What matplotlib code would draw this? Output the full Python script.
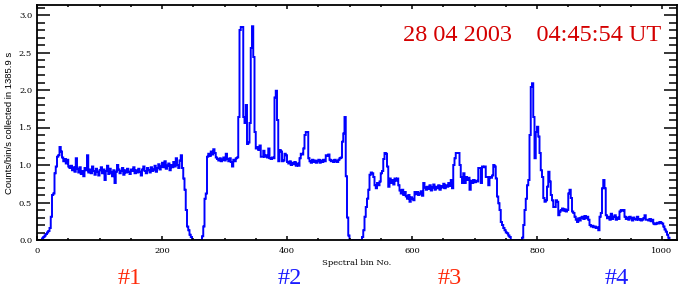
import numpy as np
import matplotlib
matplotlib.use('Agg')
import matplotlib.pyplot as plt
from matplotlib.ticker import MultipleLocator

# counts per 2-bin group, spectral bins 0..1023
counts = [
	0.00, 0.00, 0.00, 0.00, 0.02, 0.04, 0.06, 0.08, 0.10, 0.12, 0.16, 0.31, 0.60, 0.62, 0.89, 0.98,
	1.11, 1.13, 1.24, 1.18, 1.10, 1.05, 1.08, 1.02, 1.07, 0.98, 0.96, 0.99, 0.93, 0.97, 0.91, 1.09,
	0.95, 0.90, 0.97, 0.88, 0.92, 0.85, 0.96, 0.93, 1.13, 0.90, 0.94, 0.89, 0.98, 0.92, 0.87, 0.95,
	0.91, 0.86, 0.93, 0.97, 0.89, 0.94, 0.80, 0.92, 0.99, 0.88, 0.95, 0.90, 0.85, 0.93, 0.76, 0.91,
	1.00, 0.94, 0.89, 0.92, 0.96, 0.87, 0.93, 0.90, 0.95, 0.91, 0.88, 0.94, 0.92, 0.97, 0.89, 0.93,
	0.90, 0.95, 0.91, 0.86, 0.94, 0.98, 0.92, 0.89, 0.96, 0.93, 0.90, 0.97, 0.92, 0.94, 0.99, 0.91,
	0.96, 1.01, 0.94, 0.98, 1.03, 0.97, 1.05, 0.95, 0.99, 1.02, 0.93, 1.00, 0.97, 1.04, 0.98, 1.09,
	1.00, 0.96, 1.06, 1.13, 0.96, 0.82, 0.67, 0.40, 0.18, 0.13, 0.07, 0.04, 0.00, 0.00, 0.00, 0.00,
	0.00, 0.00, 0.00, 0.00, 0.05, 0.18, 0.55, 0.62, 1.11, 1.15, 1.12, 1.18, 1.14, 1.21, 1.16, 1.10,
	1.08, 1.06, 1.09, 1.05, 1.07, 1.10, 1.06, 1.15, 1.08, 1.05, 1.09, 1.04, 0.98, 1.07, 1.05, 1.09,
	1.10, 1.64, 2.80, 2.84, 2.84, 1.64, 1.56, 1.80, 1.28, 1.30, 1.56, 2.56, 2.85, 2.44, 1.44, 1.22,
	1.24, 1.20, 1.26, 1.11, 1.11, 1.19, 1.11, 1.13, 1.10, 1.22, 1.09, 1.08, 1.10, 1.09, 1.90, 1.99,
	1.60, 1.05, 1.20, 1.18, 1.05, 1.06, 1.15, 1.13, 1.04, 1.02, 1.05, 1.00, 1.03, 1.01, 1.04, 0.99,
	1.02, 0.99, 1.09, 1.15, 1.14, 1.22, 1.40, 1.44, 1.44, 1.09, 1.05, 1.03, 1.07, 1.04, 1.06, 1.03,
	1.05, 1.07, 1.03, 1.06, 1.04, 1.07, 1.05, 1.13, 1.12, 1.14, 1.07, 1.05, 1.06, 1.04, 1.07, 1.05,
	1.04, 1.07, 1.09, 1.10, 1.31, 1.42, 1.64, 0.85, 0.30, 0.06, 0.00, 0.00, 0.00, 0.00, 0.00, 0.00,
	0.00, 0.00, 0.00, 0.00, 0.04, 0.13, 0.31, 0.44, 0.55, 0.67, 0.87, 0.90, 0.89, 0.84, 0.73, 0.69,
	0.76, 0.73, 0.78, 0.89, 0.92, 1.08, 1.16, 1.15, 0.98, 0.71, 0.82, 0.76, 0.80, 0.74, 0.82, 0.79,
	0.82, 0.73, 0.66, 0.62, 0.67, 0.60, 0.64, 0.58, 0.55, 0.60, 0.51, 0.57, 0.55, 0.53, 0.64, 0.61,
	0.64, 0.60, 0.62, 0.65, 0.59, 0.76, 0.70, 0.67, 0.71, 0.68, 0.73, 0.66, 0.70, 0.74, 0.67, 0.71,
	0.69, 0.73, 0.67, 0.72, 0.70, 0.75, 0.69, 0.73, 0.71, 0.76, 0.72, 0.80, 0.69, 1.00, 1.09, 1.16,
	1.16, 1.16, 1.00, 0.84, 0.76, 0.89, 0.76, 0.84, 0.80, 0.83, 0.67, 0.79, 0.76, 0.80, 0.77, 0.79,
	0.78, 0.96, 0.96, 0.76, 0.98, 0.97, 0.98, 0.84, 0.84, 0.73, 0.84, 0.83, 0.86, 1.00, 0.98, 0.82,
	0.58, 0.49, 0.40, 0.24, 0.20, 0.16, 0.13, 0.10, 0.09, 0.06, 0.04, 0.00, 0.00, 0.00, 0.00, 0.00,
	0.00, 0.00, 0.00, 0.00, 0.03, 0.20, 0.40, 0.55, 0.73, 0.80, 1.40, 2.04, 2.09, 1.64, 1.09, 1.44,
	1.51, 1.38, 1.16, 0.93, 0.84, 0.56, 0.51, 0.53, 0.71, 0.91, 0.78, 0.60, 0.53, 0.44, 0.44, 0.53,
	0.51, 0.33, 0.38, 0.40, 0.42, 0.39, 0.41, 0.38, 0.40, 0.62, 0.67, 0.56, 0.38, 0.36, 0.31, 0.27,
	0.24, 0.29, 0.26, 0.30, 0.31, 0.28, 0.32, 0.29, 0.31, 0.27, 0.20, 0.18, 0.19, 0.17, 0.18, 0.16,
	0.17, 0.13, 0.31, 0.36, 0.69, 0.80, 0.69, 0.33, 0.29, 0.31, 0.27, 0.35, 0.28, 0.31, 0.33, 0.27,
	0.30, 0.28, 0.38, 0.40, 0.39, 0.40, 0.31, 0.28, 0.30, 0.27, 0.31, 0.29, 0.26, 0.30, 0.28, 0.27,
	0.31, 0.27, 0.28, 0.26, 0.27, 0.29, 0.33, 0.27, 0.27, 0.26, 0.28, 0.25, 0.27, 0.22, 0.21, 0.22,
	0.23, 0.22, 0.24, 0.23, 0.22, 0.18, 0.14, 0.11, 0.07, 0.03, 0.00, 0.00, 0.00, 0.00, 0.00, 0.00,
]
bin_edges = np.arange(0, 1025, 2)

date_text = '28 04 2003    04:45:54 UT'
region_labels = ['#1', '#2', '#3', '#4']
region_centers = [130, 290, 450, 617]   # pixel x of the labels
region_colors = ['#ff2a0a', '#1a1aff', '#ff2a0a', '#1a1aff']

W, H = 684, 291
fig = plt.figure(figsize=(W / 100, H / 100), dpi=100)
ax = fig.add_axes([37 / W, 1 - 240 / H, 640 / W, 235 / H])

ax.stairs(counts, bin_edges, color='#0000ff', linewidth=1.4, baseline=None)

ax.set_xlim(0, 1024)
ax.set_ylim(0, 235 / 75)
ax.xaxis.set_major_locator(MultipleLocator(200))
ax.xaxis.set_minor_locator(MultipleLocator(50))
ax.yaxis.set_major_locator(MultipleLocator(0.5))
ax.yaxis.set_minor_locator(MultipleLocator(0.1))
ax.yaxis.set_major_formatter(lambda v, p: '%.1f' % v)

for s in ax.spines.values():
	s.set_linewidth(1.3)
ax.tick_params(axis='both', which='both', direction='in', top=True, right=True,
	labelsize=6, width=1.1, colors='black')
ax.tick_params(axis='y', which='major', length=9.4, pad=3.5)
ax.tick_params(axis='y', which='minor', length=5.5)
ax.tick_params(axis='x', which='major', length=3.2, pad=5)
ax.tick_params(axis='x', which='minor', length=1.7)
for lab in ax.get_xticklabels() + ax.get_yticklabels():
	lab.set_family('DejaVu Serif')

ax.set_xlabel('Spectral bin No.', family='DejaVu Serif', fontsize=6, labelpad=3)
ax.set_ylabel('Counts/bin/s collected in 1385.9 s', family='Liberation Sans', fontsize=6.8)
ax.yaxis.set_label_coords(-0.036, 0.5)

fig.text(661 / W, 1 - 41 / H, date_text, color='#d40000', family='Liberation Serif',
	fontsize=17.5, ha='right', va='baseline')

for lab, cx, col in zip(region_labels, region_centers, region_colors):
	fig.text(cx / W, 1 - 284 / H, lab, color=col, family='Liberation Serif',
		fontsize=17.5, ha='center', va='baseline')

fig.savefig('out.png', dpi=100, facecolor='white')
